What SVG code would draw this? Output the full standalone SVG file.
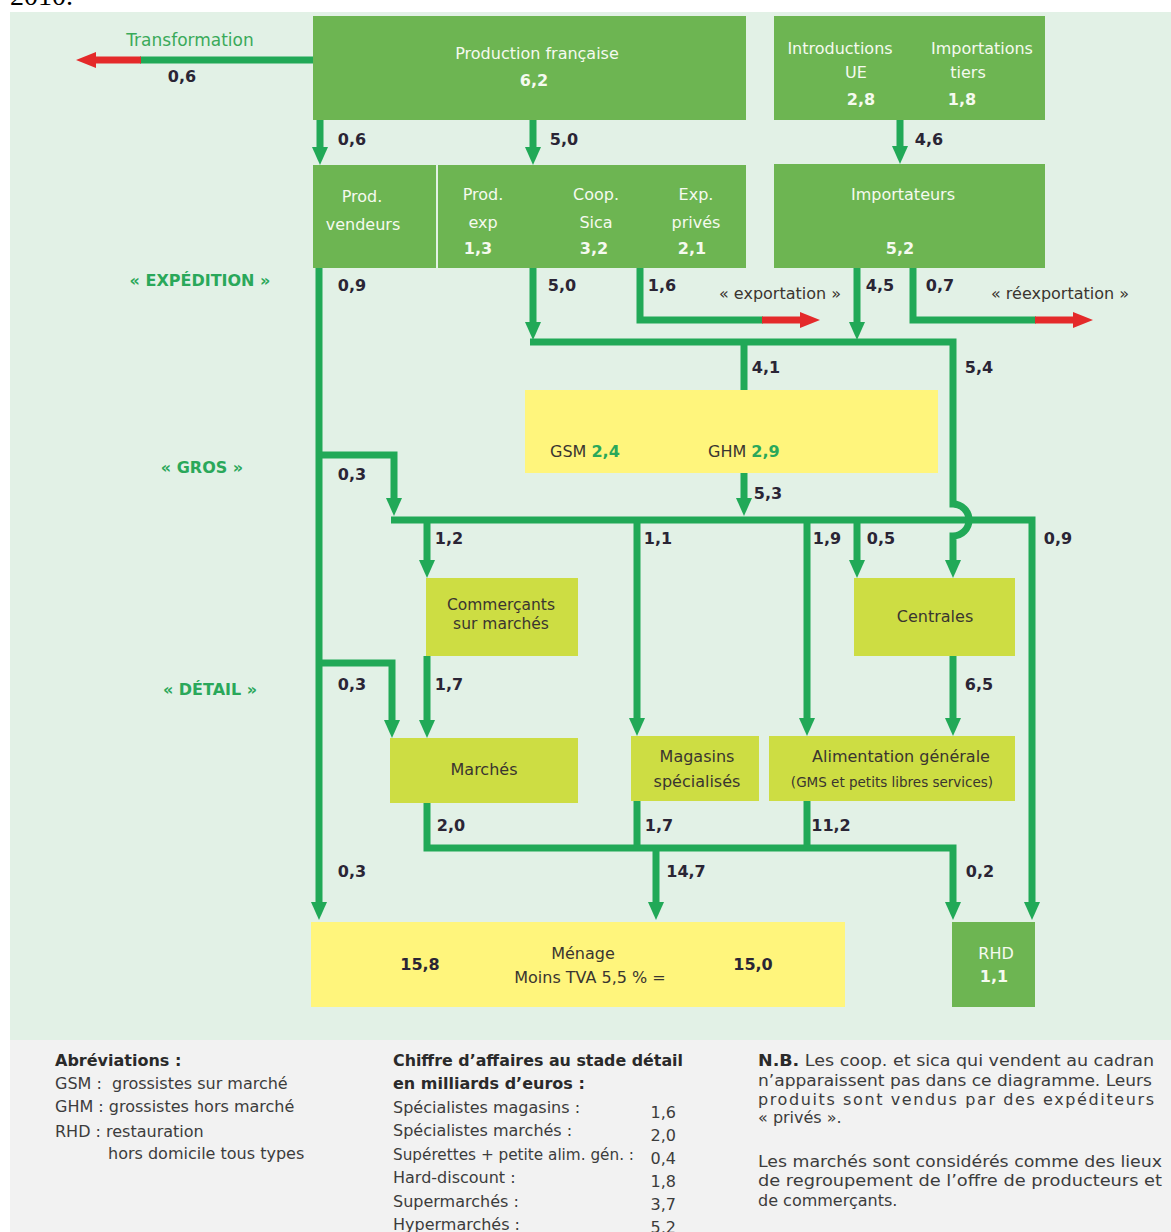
<svg xmlns="http://www.w3.org/2000/svg" width="1171" height="1232" viewBox="0 0 1171 1232">
<style>
text{font-family:"DejaVu Sans","Liberation Sans",sans-serif;}
.bx{fill:#6db552;}
.yl{fill:#fff57c;}
.lm{fill:#cddd43;}
.wt{fill:#f5faef;font-size:16px;text-anchor:middle;}
.wb{fill:#f5faef;font-size:16px;font-weight:bold;text-anchor:middle;}
.dk{fill:#3a3530;font-size:16px;text-anchor:middle;}
.num{fill:#2a2535;font-size:16px;font-weight:bold;text-anchor:middle;}
.sec{fill:#2aa85a;font-size:16px;font-weight:bold;text-anchor:middle;}
.ln{fill:none;stroke:#21a957;stroke-width:7;stroke-linejoin:miter;}
.rd{fill:none;stroke:#e42a2a;stroke-width:7;}
.lg{fill:#3c3c3c;font-size:16px;}
.lgb{fill:#2a2a2a;font-size:16px;font-weight:bold;}
</style>
<defs>
<marker id="ag" markerUnits="userSpaceOnUse" viewBox="0 -8 18 16" markerWidth="18" markerHeight="16" refX="8" refY="0" orient="auto">
<path d="M0,-8 L18,0 L0,8 Z" fill="#21a957"/>
</marker>
<marker id="ar" markerUnits="userSpaceOnUse" viewBox="0 -8 20 16" markerWidth="20" markerHeight="16" refX="8" refY="0" orient="auto">
<path d="M0,-8 L20,0 L0,8 Z" fill="#e42a2a"/>
</marker>
</defs>
<rect x="0" y="0" width="1171" height="1232" fill="#ffffff"/>
<text x="10" y="5" style="font-family:'Liberation Serif',serif;font-size:28px;fill:#000">2010.</text>
<rect x="10" y="12" width="1161" height="1028" fill="#e2f1e6"/>
<rect x="10" y="1040" width="1161" height="192" fill="#f2f2f2"/>

<g id="connectors">
<path class="ln" d="M313,60 H140"/>
<path class="rd" d="M141,60 H88" marker-end="url(#ar)"/>
<path class="ln" d="M320,120 V155" marker-end="url(#ag)"/>
<path class="ln" d="M533,120 V155" marker-end="url(#ag)"/>
<path class="ln" d="M900,120 V154" marker-end="url(#ag)"/>
<path class="ln" d="M319,268 V910" marker-end="url(#ag)"/>
<path class="ln" d="M319,455 H394 V506" marker-end="url(#ag)"/>
<path class="ln" d="M391,520 H1032 V910" marker-end="url(#ag)"/>
<path class="ln" d="M319,663 H392 V728" marker-end="url(#ag)"/>
<path class="ln" d="M533,268 V330" marker-end="url(#ag)"/>
<path class="ln" d="M640,268 V320 H763"/>
<path class="rd" d="M762,320 H808" marker-end="url(#ar)"/>
<path class="ln" d="M857,268 V330" marker-end="url(#ag)"/>
<path class="ln" d="M913,268 V320 H1036"/>
<path class="rd" d="M1035,320 H1081" marker-end="url(#ar)"/>
<path class="ln" d="M530,342 H953 V504 A16,16 0 0 1 953,536 V568" marker-end="url(#ag)"/>
<path class="ln" d="M744,342 V390"/>
<path class="ln" d="M744,473 V506" marker-end="url(#ag)"/>
<path class="ln" d="M427,520 V568" marker-end="url(#ag)"/>
<path class="ln" d="M637,520 V726" marker-end="url(#ag)"/>
<path class="ln" d="M807,520 V726" marker-end="url(#ag)"/>
<path class="ln" d="M857,520 V568" marker-end="url(#ag)"/>
<path class="ln" d="M427,656 V728" marker-end="url(#ag)"/>
<path class="ln" d="M953,656 V726" marker-end="url(#ag)"/>
<path class="ln" d="M427,803 V848 H953 V910" marker-end="url(#ag)"/>
<path class="ln" d="M637,801 V848"/>
<path class="ln" d="M807,801 V848"/>
<path class="ln" d="M656,848 V910" marker-end="url(#ag)"/>
</g>

<g id="flow-labels">
<text x="190" y="46" style="fill:#3aaa5a;font-size:17px;text-anchor:middle">Transformation</text>
<text class="num" x="182" y="82">0,6</text>
<text class="num" x="352" y="145">0,6</text>
<text class="num" x="564" y="145">5,0</text>
<text class="num" x="929" y="145">4,6</text>
<text class="num" x="352" y="291">0,9</text>
<text class="num" x="562" y="291">5,0</text>
<text class="num" x="662" y="291">1,6</text>
<text class="num" x="880" y="291">4,5</text>
<text class="num" x="940" y="291">0,7</text>
<text class="dk" x="780" y="299">« exportation »</text>
<text class="dk" x="1060" y="299">« réexportation »</text>
<text class="num" x="766" y="373">4,1</text>
<text class="num" x="979" y="373">5,4</text>
<text class="num" x="352" y="480">0,3</text>
<text class="num" x="768" y="499">5,3</text>
<text class="num" x="449" y="544">1,2</text>
<text class="num" x="658" y="544">1,1</text>
<text class="num" x="827" y="544">1,9</text>
<text class="num" x="881" y="544">0,5</text>
<text class="num" x="1058" y="544">0,9</text>
<text class="num" x="352" y="690">0,3</text>
<text class="num" x="449" y="690">1,7</text>
<text class="num" x="979" y="690">6,5</text>
<text class="num" x="451" y="831">2,0</text>
<text class="num" x="659" y="831">1,7</text>
<text class="num" x="831" y="831">11,2</text>
<text class="num" x="352" y="877">0,3</text>
<text class="num" x="686" y="877">14,7</text>
<text class="num" x="980" y="877">0,2</text>
<text class="sec" x="200" y="286">« EXPÉDITION »</text>
<text class="sec" x="202" y="473">« GROS »</text>
<text class="sec" x="210" y="695">« DÉTAIL »</text>
</g>

<g id="production-francaise">
<rect class="bx" x="313" y="16" width="433" height="104"/>
<text class="wt" x="537" y="59">Production française</text>
<text class="wb" x="534" y="86">6,2</text>
</g>
<g id="introductions-importations">
<rect class="bx" x="774" y="16" width="271" height="104"/>
<text class="wt" x="840" y="54">Introductions</text>
<text class="wt" x="856" y="78">UE</text>
<text class="wb" x="861" y="105">2,8</text>
<text class="wt" x="982" y="54">Importations</text>
<text class="wt" x="968" y="78">tiers</text>
<text class="wb" x="962" y="105">1,8</text>
</g>
<g id="prod-vendeurs">
<rect class="bx" x="313" y="165" width="123" height="103"/>
<text class="wt" x="362" y="202">Prod.</text>
<text class="wt" x="363" y="230">vendeurs</text>
</g>
<g id="expediteurs">
<rect class="bx" x="438" y="165" width="308" height="103"/>
<text class="wt" x="483" y="200">Prod.</text>
<text class="wt" x="483" y="228">exp</text>
<text class="wb" x="478" y="254">1,3</text>
<text class="wt" x="596" y="200">Coop.</text>
<text class="wt" x="596" y="228">Sica</text>
<text class="wb" x="594" y="254">3,2</text>
<text class="wt" x="696" y="200">Exp.</text>
<text class="wt" x="696" y="228">privés</text>
<text class="wb" x="692" y="254">2,1</text>
</g>
<g id="importateurs">
<rect class="bx" x="774" y="164" width="271" height="104"/>
<text class="wt" x="903" y="200">Importateurs</text>
<text class="wb" x="900" y="254">5,2</text>
</g>
<g id="gsm-ghm">
<rect class="yl" x="525" y="390" width="413" height="83"/>
<text x="550" y="457" style="font-size:16px;fill:#3a3530">GSM <tspan style="fill:#2aa85a;font-weight:bold">2,4</tspan></text>
<text x="708" y="457" style="font-size:16px;fill:#3a3530">GHM <tspan style="fill:#2aa85a;font-weight:bold">2,9</tspan></text>
</g>
<g id="commercants">
<rect class="lm" x="426" y="578" width="152" height="78"/>
<text class="dk" x="501" y="610" style="font-size:15.5px">Commerçants</text>
<text class="dk" x="501" y="629" style="font-size:15.5px">sur marchés</text>
</g>
<g id="centrales">
<rect class="lm" x="854" y="578" width="161" height="78"/>
<text class="dk" x="935" y="622">Centrales</text>
</g>
<g id="marches">
<rect class="lm" x="390" y="738" width="188" height="65"/>
<text class="dk" x="484" y="775">Marchés</text>
</g>
<g id="magasins">
<rect class="lm" x="631" y="736" width="128" height="65"/>
<text class="dk" x="697" y="762">Magasins</text>
<text class="dk" x="697" y="787">spécialisés</text>
</g>
<g id="alimentation">
<rect class="lm" x="769" y="736" width="246" height="65"/>
<text class="dk" x="901" y="762">Alimentation générale</text>
<text class="dk" x="892" y="787" style="font-size:13.5px">(GMS et petits libres services)</text>
</g>
<g id="menage">
<rect class="yl" x="311" y="922" width="534" height="85"/>
<text class="dk" x="583" y="959">Ménage</text>
<text class="dk" x="590" y="983">Moins TVA 5,5 % =</text>
<text class="num" x="420" y="970">15,8</text>
<text class="num" x="753" y="970">15,0</text>
</g>
<g id="rhd">
<rect class="bx" x="952" y="922" width="83" height="85"/>
<text class="wt" x="996" y="959">RHD</text>
<text class="wb" x="994" y="982">1,1</text>
</g>

<g id="legend">
<text class="lgb" x="55" y="1066">Abréviations :</text>
<text class="lg" x="55" y="1089">GSM :&#160; grossistes sur marché</text>
<text class="lg" x="55" y="1112">GHM : grossistes hors marché</text>
<text class="lg" x="55" y="1137">RHD : restauration</text>
<text class="lg" x="108" y="1159">hors domicile tous types</text>

<text class="lgb" x="393" y="1066" textLength="290" lengthAdjust="spacingAndGlyphs">Chiffre d’affaires au stade détail</text>
<text class="lgb" x="393" y="1089">en milliards d’euros :</text>
<text class="lg" x="393" y="1113">Spécialistes magasins :</text>
<text class="lg" x="393" y="1136">Spécialistes marchés :</text>
<text class="lg" x="393" y="1160" textLength="241" lengthAdjust="spacingAndGlyphs">Supérettes + petite alim. gén. :</text>
<text class="lg" x="393" y="1183">Hard-discount :</text>
<text class="lg" x="393" y="1207">Supermarchés :</text>
<text class="lg" x="393" y="1230">Hypermarchés :</text>
<g class="lg" style="text-anchor:end">
<text x="676" y="1118">1,6</text>
<text x="676" y="1141">2,0</text>
<text x="676" y="1164">0,4</text>
<text x="676" y="1187">1,8</text>
<text x="676" y="1210">3,7</text>
<text x="676" y="1233">5,2</text>
</g>

<text class="lg" x="758" y="1066" textLength="396" lengthAdjust="spacingAndGlyphs"><tspan style="font-weight:bold;fill:#2a2a2a">N.B.</tspan> Les coop. et sica qui vendent au cadran</text>
<text class="lg" x="758" y="1086" textLength="394" lengthAdjust="spacingAndGlyphs">n’apparaissent pas dans ce diagramme. Leurs</text>
<text class="lg" x="758" y="1105" textLength="396" lengthAdjust="spacing">produits sont vendus par des expéditeurs</text>
<text class="lg" x="758" y="1123">« privés ».</text>
<text class="lg" x="758" y="1167" textLength="404" lengthAdjust="spacingAndGlyphs">Les marchés sont considérés comme des lieux</text>
<text class="lg" x="758" y="1186" textLength="404" lengthAdjust="spacingAndGlyphs">de regroupement de l’offre de producteurs et</text>
<text class="lg" x="758" y="1206">de commerçants.</text>
</g>
</svg>
